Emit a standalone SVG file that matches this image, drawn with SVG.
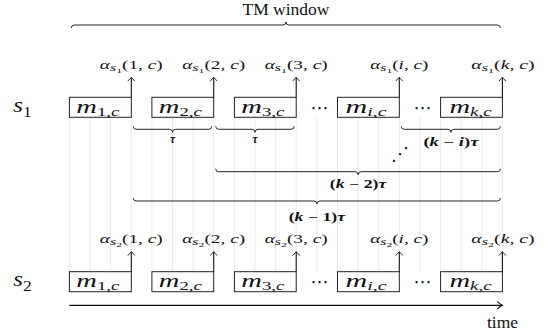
<svg xmlns="http://www.w3.org/2000/svg" width="548" height="332" viewBox="0 0 548 332">
  <defs>
    <marker id="tip" markerUnits="userSpaceOnUse" markerWidth="10" markerHeight="10" viewBox="-5 -5 10 10" refX="0" refY="0" orient="auto" overflow="visible">
      <path d="M-3.6,-3.3 Q-1,-0.9 0,0 Q-1,0.9 -3.6,3.3" fill="none" stroke="#111" stroke-width="0.9" stroke-linecap="round"/>
    </marker>
    <marker id="tip-time" markerUnits="userSpaceOnUse" markerWidth="12" markerHeight="12" viewBox="-6 -6 12 12" refX="0" refY="0" orient="auto" overflow="visible">
      <path d="M-5,-3.4 Q-1.6,-0.9 0,0 Q-1.6,0.9 -5,3.4" fill="none" stroke="#111" stroke-width="1.1" stroke-linecap="round"/>
    </marker>
  </defs>
  <style>
    .grid line { stroke: #e6e6e6; stroke-width: 0.8; }
    .box { fill: #fff; stroke: #222; stroke-width: 1; }
    .conn line { stroke: #111; stroke-width: 1.1; marker-end: url(#tip); }
    .brace { fill: none; stroke: #222; stroke-width: 1; }
    text { fill: #111; }
    .mi { font-style: italic; }
    .up { font-style: normal; }
    .lbl { font-size: 11.5px; }
    .mlab { font-size: 19px; }
    .blab { font-size: 11.5px; font-weight: bold; }
    .dots { font-size: 18px; }
  </style>

  <!-- light timing grid between the two rows -->
  <g class="grid">
    <line x1="69.4" y1="117.3" x2="69.4" y2="271.7"/>
    <line x1="90.0" y1="117.3" x2="90.0" y2="271.7"/>
    <line x1="110.6" y1="117.3" x2="110.6" y2="271.7"/>
    <line x1="131.3" y1="117.3" x2="131.3" y2="271.7"/>
    <line x1="151.9" y1="117.3" x2="151.9" y2="271.7"/>
    <line x1="172.5" y1="117.3" x2="172.5" y2="271.7"/>
    <line x1="193.1" y1="117.3" x2="193.1" y2="271.7"/>
    <line x1="213.7" y1="117.3" x2="213.7" y2="271.7"/>
    <line x1="234.4" y1="117.3" x2="234.4" y2="271.7"/>
    <line x1="255.0" y1="117.3" x2="255.0" y2="271.7"/>
    <line x1="275.6" y1="117.3" x2="275.6" y2="271.7"/>
    <line x1="296.2" y1="117.3" x2="296.2" y2="271.7"/>
    <line x1="316.8" y1="117.3" x2="316.8" y2="271.7"/>
    <line x1="337.5" y1="117.3" x2="337.5" y2="271.7"/>
    <line x1="358.1" y1="117.3" x2="358.1" y2="271.7"/>
    <line x1="378.7" y1="117.3" x2="378.7" y2="271.7"/>
    <line x1="399.3" y1="117.3" x2="399.3" y2="271.7"/>
    <line x1="419.9" y1="117.3" x2="419.9" y2="271.7"/>
    <line x1="440.6" y1="117.3" x2="440.6" y2="271.7"/>
    <line x1="461.2" y1="117.3" x2="461.2" y2="271.7"/>
    <line x1="481.8" y1="117.3" x2="481.8" y2="271.7"/>
    <line x1="502.4" y1="117.3" x2="502.4" y2="271.7"/>
  </g>

  <g font-family="Liberation Serif, Times New Roman, serif">
  <!-- window brace -->
  <g id="tm-window">
    <path class="brace" d="M71.4,28 Q71.4,25 74.4,25 L282.9,25 Q285.9,25 285.9,22 Q285.9,25 288.9,25 L497.4,25 Q500.4,25 500.4,28"/>
    <text x="286" y="15" font-size="17.5" text-anchor="middle">TM window</text>
  </g>

  <!-- row labels -->
  <g id="s1"><text class="mi" x="13.3" y="111.7" font-size="20" textLength="18.4" lengthAdjust="spacingAndGlyphs">s<tspan class="up" font-size="14" dy="5.3">1</tspan></text></g>
  <g id="s2"><text class="mi" x="13.3" y="286.1" font-size="20" textLength="18.4" lengthAdjust="spacingAndGlyphs">s<tspan class="up" font-size="14" dy="5.3">2</tspan></text></g>

  <!-- row s1 messages -->
  <g id="s1-m1"><rect class="box" x="69.4" y="97.3" width="61.9" height="20"/>
    <text class="mi mlab" x="97.8" y="113" text-anchor="middle" textLength="43" lengthAdjust="spacingAndGlyphs">m<tspan font-size="12.5" dy="2.6"><tspan class="up">1,</tspan>c</tspan></text></g>
  <g id="s1-m2"><rect class="box" x="151.9" y="97.3" width="61.8" height="20"/>
    <text class="mi mlab" x="180.3" y="113" text-anchor="middle" textLength="43" lengthAdjust="spacingAndGlyphs">m<tspan font-size="12.5" dy="2.6"><tspan class="up">2,</tspan>c</tspan></text></g>
  <g id="s1-m3"><rect class="box" x="234.4" y="97.3" width="61.8" height="20"/>
    <text class="mi mlab" x="262.8" y="113" text-anchor="middle" textLength="43" lengthAdjust="spacingAndGlyphs">m<tspan font-size="12.5" dy="2.6"><tspan class="up">3,</tspan>c</tspan></text></g>
  <g id="s1-gap1"><text class="dots" font-family="DejaVu Sans, sans-serif" x="319.5" y="114" text-anchor="middle">⋯</text></g>
  <g id="s1-mi"><rect class="box" x="337.5" y="97.3" width="61.8" height="20"/>
    <text class="mi mlab" x="366" y="113" text-anchor="middle" textLength="41" lengthAdjust="spacingAndGlyphs">m<tspan font-size="12.5" dy="2.6">i<tspan class="up">,</tspan>c</tspan></text></g>
  <g id="s1-gap2"><text class="dots" font-family="DejaVu Sans, sans-serif" x="422.5" y="114" text-anchor="middle">⋯</text></g>
  <g id="s1-mk"><rect class="box" x="440.6" y="97.3" width="61.8" height="20"/>
    <text class="mi mlab" x="470.5" y="113" text-anchor="middle" textLength="42" lengthAdjust="spacingAndGlyphs">m<tspan font-size="12.5" dy="2.6">k<tspan class="up">,</tspan>c</tspan></text></g>

  <!-- row s2 messages -->
  <g id="s2-m1"><rect class="box" x="69.4" y="271.7" width="61.9" height="20"/>
    <text class="mi mlab" x="97.8" y="287.4" text-anchor="middle" textLength="43" lengthAdjust="spacingAndGlyphs">m<tspan font-size="12.5" dy="2.6"><tspan class="up">1,</tspan>c</tspan></text></g>
  <g id="s2-m2"><rect class="box" x="151.9" y="271.7" width="61.8" height="20"/>
    <text class="mi mlab" x="180.3" y="287.4" text-anchor="middle" textLength="43" lengthAdjust="spacingAndGlyphs">m<tspan font-size="12.5" dy="2.6"><tspan class="up">2,</tspan>c</tspan></text></g>
  <g id="s2-m3"><rect class="box" x="234.4" y="271.7" width="61.8" height="20"/>
    <text class="mi mlab" x="262.8" y="287.4" text-anchor="middle" textLength="43" lengthAdjust="spacingAndGlyphs">m<tspan font-size="12.5" dy="2.6"><tspan class="up">3,</tspan>c</tspan></text></g>
  <g id="s2-gap1"><text class="dots" font-family="DejaVu Sans, sans-serif" x="319.5" y="288.4" text-anchor="middle">⋯</text></g>
  <g id="s2-mi"><rect class="box" x="337.5" y="271.7" width="61.8" height="20"/>
    <text class="mi mlab" x="366" y="287.4" text-anchor="middle" textLength="41" lengthAdjust="spacingAndGlyphs">m<tspan font-size="12.5" dy="2.6">i<tspan class="up">,</tspan>c</tspan></text></g>
  <g id="s2-gap2"><text class="dots" font-family="DejaVu Sans, sans-serif" x="422.5" y="288.4" text-anchor="middle">⋯</text></g>
  <g id="s2-mk"><rect class="box" x="440.6" y="271.7" width="61.8" height="20"/>
    <text class="mi mlab" x="470.5" y="287.4" text-anchor="middle" textLength="42" lengthAdjust="spacingAndGlyphs">m<tspan font-size="12.5" dy="2.6">k<tspan class="up">,</tspan>c</tspan></text></g>

  <!-- departure arrows -->
  <g class="conn">
    <line x1="131.3" y1="97.3" x2="131.3" y2="77.3"/>
    <line x1="213.7" y1="97.3" x2="213.7" y2="77.3"/>
    <line x1="296.2" y1="97.3" x2="296.2" y2="77.3"/>
    <line x1="399.3" y1="97.3" x2="399.3" y2="77.3"/>
    <line x1="502.4" y1="97.3" x2="502.4" y2="77.3"/>
    <line x1="131.3" y1="271.7" x2="131.3" y2="251.7"/>
    <line x1="213.7" y1="271.7" x2="213.7" y2="251.7"/>
    <line x1="296.2" y1="271.7" x2="296.2" y2="251.7"/>
    <line x1="399.3" y1="271.7" x2="399.3" y2="251.7"/>
    <line x1="502.4" y1="271.7" x2="502.4" y2="251.7"/>
    <line x1="69.4" y1="305.3" x2="502.4" y2="305.3" style="stroke-width:1.2;marker-end:url(#tip-time)"/>
  </g>

  <!-- arrow labels -->
  <g id="alpha-s1">
    <text class="mi lbl" x="131.3" y="68.5" text-anchor="middle" textLength="63" lengthAdjust="spacingAndGlyphs">α<tspan font-size="9.5" dy="2.5">s</tspan><tspan class="up" font-size="7" dy="2">1</tspan><tspan class="up" dy="-4.5">(1, </tspan>c<tspan class="up">)</tspan></text>
    <text class="mi lbl" x="213.7" y="68.5" text-anchor="middle" textLength="63" lengthAdjust="spacingAndGlyphs">α<tspan font-size="9.5" dy="2.5">s</tspan><tspan class="up" font-size="7" dy="2">1</tspan><tspan class="up" dy="-4.5">(2, </tspan>c<tspan class="up">)</tspan></text>
    <text class="mi lbl" x="296.2" y="68.5" text-anchor="middle" textLength="63" lengthAdjust="spacingAndGlyphs">α<tspan font-size="9.5" dy="2.5">s</tspan><tspan class="up" font-size="7" dy="2">1</tspan><tspan class="up" dy="-4.5">(3, </tspan>c<tspan class="up">)</tspan></text>
    <text class="mi lbl" x="399.3" y="68.5" text-anchor="middle" textLength="58.3" lengthAdjust="spacingAndGlyphs">α<tspan font-size="9.5" dy="2.5">s</tspan><tspan class="up" font-size="7" dy="2">1</tspan><tspan class="up" dy="-4.5">(</tspan>i<tspan class="up">, </tspan>c<tspan class="up">)</tspan></text>
    <text class="mi lbl" x="503" y="68.5" text-anchor="middle" textLength="63.3" lengthAdjust="spacingAndGlyphs">α<tspan font-size="9.5" dy="2.5">s</tspan><tspan class="up" font-size="7" dy="2">1</tspan><tspan class="up" dy="-4.5">(</tspan>k<tspan class="up">, </tspan>c<tspan class="up">)</tspan></text>
  </g>
  <g id="alpha-s2">
    <text class="mi lbl" x="131.3" y="242.9" text-anchor="middle" textLength="63" lengthAdjust="spacingAndGlyphs">α<tspan font-size="9.5" dy="2.5">s</tspan><tspan class="up" font-size="7" dy="2">2</tspan><tspan class="up" dy="-4.5">(1, </tspan>c<tspan class="up">)</tspan></text>
    <text class="mi lbl" x="213.7" y="242.9" text-anchor="middle" textLength="63" lengthAdjust="spacingAndGlyphs">α<tspan font-size="9.5" dy="2.5">s</tspan><tspan class="up" font-size="7" dy="2">2</tspan><tspan class="up" dy="-4.5">(2, </tspan>c<tspan class="up">)</tspan></text>
    <text class="mi lbl" x="296.2" y="242.9" text-anchor="middle" textLength="63" lengthAdjust="spacingAndGlyphs">α<tspan font-size="9.5" dy="2.5">s</tspan><tspan class="up" font-size="7" dy="2">2</tspan><tspan class="up" dy="-4.5">(3, </tspan>c<tspan class="up">)</tspan></text>
    <text class="mi lbl" x="399.3" y="242.9" text-anchor="middle" textLength="58.3" lengthAdjust="spacingAndGlyphs">α<tspan font-size="9.5" dy="2.5">s</tspan><tspan class="up" font-size="7" dy="2">2</tspan><tspan class="up" dy="-4.5">(</tspan>i<tspan class="up">, </tspan>c<tspan class="up">)</tspan></text>
    <text class="mi lbl" x="503" y="242.9" text-anchor="middle" textLength="63.3" lengthAdjust="spacingAndGlyphs">α<tspan font-size="9.5" dy="2.5">s</tspan><tspan class="up" font-size="7" dy="2">2</tspan><tspan class="up" dy="-4.5">(</tspan>k<tspan class="up">, </tspan>c<tspan class="up">)</tspan></text>
  </g>

  <!-- spacing braces -->
  <g id="tau-1">
    <path class="brace" d="M133.3,126.3 Q133.3,129.3 136.3,129.3 L169.5,129.3 Q172.5,129.3 172.5,132.3 Q172.5,129.3 175.5,129.3 L208.7,129.3 Q211.7,129.3 211.7,126.3"/>
    <text class="mi blab" x="172.5" y="142.5" text-anchor="middle">τ</text>
  </g>
  <g id="tau-2">
    <path class="brace" d="M215.7,126.3 Q215.7,129.3 218.7,129.3 L252,129.3 Q255,129.3 255,132.3 Q255,129.3 258,129.3 L291.2,129.3 Q294.2,129.3 294.2,126.3"/>
    <text class="mi blab" x="255" y="142.5" text-anchor="middle">τ</text>
  </g>
  <g id="tau-ki">
    <path class="brace" d="M401.3,126.3 Q401.3,129.3 404.3,129.3 L447.9,129.3 Q450.9,129.3 450.9,132.3 Q450.9,129.3 453.9,129.3 L497.4,129.3 Q500.4,129.3 500.4,126.3"/>
    <text class="mi blab" x="450.9" y="146" text-anchor="middle" textLength="55" lengthAdjust="spacingAndGlyphs"><tspan class="up">(</tspan>k <tspan class="up">−</tspan> i<tspan class="up">)</tspan>τ</text>
  </g>
  <g id="ellipsis"><text class="dots" font-family="DejaVu Sans, sans-serif" x="400" y="159.5" text-anchor="middle">⋰</text></g>
  <g id="tau-k2">
    <path class="brace" d="M215.7,168.7 Q215.7,171.7 218.7,171.7 L355.1,171.7 Q358.1,171.7 358.1,174.7 Q358.1,171.7 361.1,171.7 L497.4,171.7 Q500.4,171.7 500.4,168.7"/>
    <text class="mi blab" x="358.1" y="188" text-anchor="middle" textLength="56.5" lengthAdjust="spacingAndGlyphs"><tspan class="up">(</tspan>k <tspan class="up">− 2)</tspan>τ</text>
  </g>
  <g id="tau-k1">
    <path class="brace" d="M133.3,198 Q133.3,201 136.3,201 L313.9,201 Q316.9,201 316.9,204 Q316.9,201 319.9,201 L497.4,201 Q500.4,201 500.4,198"/>
    <text class="mi blab" x="316.9" y="220.5" text-anchor="middle" textLength="56.5" lengthAdjust="spacingAndGlyphs"><tspan class="up">(</tspan>k <tspan class="up">− 1)</tspan>τ</text>
  </g>

  <!-- time axis label -->
  <g id="time"><text x="502.5" y="328" font-size="17.5" text-anchor="middle">time</text></g>
  </g>
</svg>
